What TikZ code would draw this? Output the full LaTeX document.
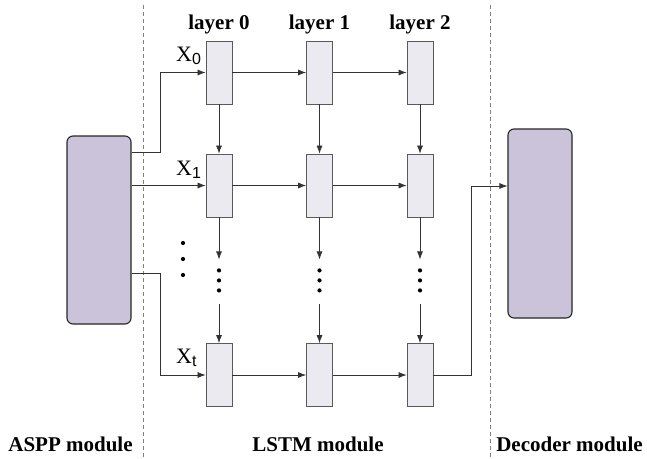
\documentclass[tikz,border=0pt]{standalone}
\usepackage{fontspec}
\setmainfont{Liberation Serif}
\setsansfont{Liberation Sans}
\usetikzlibrary{arrows.meta,positioning,calc}
\definecolor{cellfill}{HTML}{ECEAF1}
\definecolor{modfill}{HTML}{CBC3D9}
\definecolor{cellline}{HTML}{5A5A5A}
\newcommand{\xsub}[1]{\raisebox{-3pt}{\fontsize{16}{18}\sffamily #1}}

\begin{document}
\begin{tikzpicture}[x=1pt,y=-1pt,
  cell/.style={draw=cellline,fill=cellfill,line width=0.8pt,
               minimum width=26pt,minimum height=63pt,inner sep=0pt},
  module/.style={draw=black!85,fill=modfill,rounded corners=6pt,
                 line width=1.1pt,minimum width=64pt,inner sep=0pt},
  arr/.style={-{Latex[length=8pt,width=6pt]},draw=black!80,line width=0.7pt},
  sep/.style={draw=gray,line width=0.6pt,dash pattern=on 4pt off 3pt},
  title/.style={font=\fontsize{21}{24}\selectfont\bfseries,anchor=base,inner sep=0pt},
  xlab/.style={font=\fontsize{22}{25}\selectfont,anchor=base west,inner sep=0pt},
  dot/.style={circle,fill=black,inner sep=0pt,minimum size=4.2pt}]
  \useasboundingbox (0,0) rectangle (647,458);
  % draw separators
  \draw[sep] (143,5) -- (143,458);
  \draw[sep] (490,5) -- (490,458);
  % draw modules
  \node[module,minimum height=188pt] (aspp) at (99,230) {};
  \node[module,minimum height=189pt] (decoder) at (540,223.5) {};
  % draw cells and layer titles
  \foreach \c/\x in {0/219,1/319.5,2/420}{
    \node[title] (layer\c) at (\x,29) {layer \c};
    \node[cell] (c\c0) at (\x,72.5) {};
    \node[cell] (c\c1) at (\x,185.5) {};
    \node[cell] (c\c t) at (\x,375) {};
  }
  % draw horizontal arrows
  \foreach \r in {0,1,t}{
    \draw[arr] (c0\r) -- (c1\r);
    \draw[arr] (c1\r) -- (c2\r);
  }
  % draw vertical arrows and dots
  \foreach \c in {0,1,2}{
    \draw[arr] (c\c0) -- (c\c1);
    \draw[arr] (c\c1.south) -- ++(0,42) coordinate (va\c);
    \node[dot] (vd\c a) at ($(va\c)+(0,11)$) {};
    \node[dot] (vd\c b) at ($(va\c)+(0,21)$) {};
    \node[dot] (vd\c c) at ($(va\c)+(0,31)$) {};
    \coordinate (vb\c) at ($(c\c t.north)+(0,-39)$);
    \draw[arr] (vb\c) -- (c\c t.north);
  }
  % draw left dots
  \node[dot] (ld1) at (183,243) {};
  \node[dot] (ld2) at (183,259) {};
  \node[dot] (ld3) at (183,275) {};
  % draw inputs
  \draw[arr] ($(aspp.north east)+(0,17)$) -| ($(c00.west)+(-45,0)$) -- (c00.west);
  \draw[arr] (aspp.east |- c01.west) -- (c01.west);
  \draw[arr] ($(aspp.north east)+(0,138)$) -| ($(c0t.west)+(-45,0)$) -- (c0t.west);
  % draw output
  \coordinate (turn) at (471,186);
  \draw[arr] (c2t.east) -| (turn) -- (turn -| decoder.west);
  % draw labels
  \node[xlab] (x0) at (176,61) {X\xsub{0}};
  \node[xlab] (x1) at (176,175) {X\xsub{1}};
  \node[xlab] (xt) at (176,363) {X\xsub{t}};
  \node[title] (asppl) at (70.5,451) {ASPP module};
  \node[title] (lstml) at (318,451) {LSTM module};
  \node[title] (decl) at (569.5,451) {Decoder module};
\end{tikzpicture}
\end{document}
